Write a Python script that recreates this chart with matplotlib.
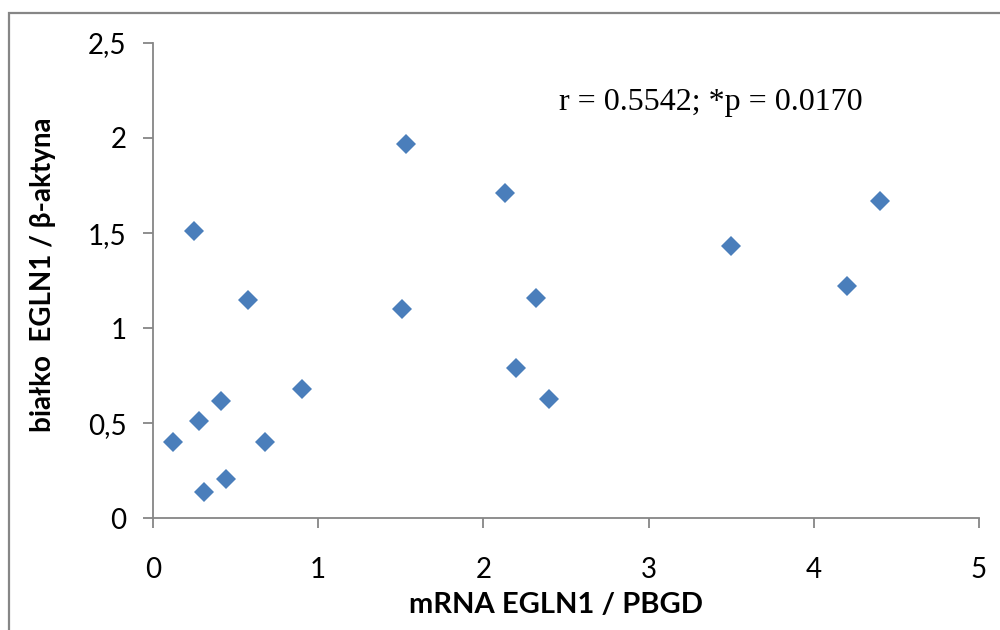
import matplotlib
matplotlib.use("Agg")
import matplotlib.pyplot as plt
from matplotlib.patches import Rectangle
from matplotlib.ticker import FuncFormatter

# mRNA vs protein level of EGLN1
mrna = [0.12, 0.28, 0.31, 0.25, 0.41, 0.44, 0.575, 0.68, 0.90,
        1.51, 1.53, 2.13, 2.20, 2.32, 2.40, 3.50, 4.20, 4.40]
protein = [0.40, 0.51, 0.14, 1.51, 0.62, 0.21, 1.15, 0.40, 0.68,
           1.10, 1.97, 1.71, 0.79, 1.16, 0.63, 1.43, 1.22, 1.67]

x_ticks = [0, 1, 2, 3, 4, 5]
y_ticks = [0, 0.5, 1, 1.5, 2, 2.5]
stats_text = "r = 0.5542; *p = 0.0170"

plt.rcParams['font.family'] = ['Lato', 'DejaVu Sans']
axis_gray = '#868686'

fig = plt.figure(figsize=(10, 6.3), dpi=100)
ax = fig.add_axes([0.153, 0.177, 0.826, 0.755])

ax.plot(mrna, protein, linestyle='none', marker='D', markersize=10,
        markerfacecolor='#4A7EBB', markeredgewidth=0, clip_on=False)

ax.set_xlim(0, 5)
ax.set_ylim(0, 2.5)
ax.set_xticks(x_ticks)
ax.set_yticks(y_ticks)

fmt = FuncFormatter(lambda v, _: f"{v:g}".replace('.', ','))
ax.xaxis.set_major_formatter(fmt)
ax.yaxis.set_major_formatter(fmt)

for side in ['top', 'right']:
    ax.spines[side].set_visible(False)
for side in ['left', 'bottom']:
    ax.spines[side].set_color(axis_gray)
    ax.spines[side].set_linewidth(1.3)

ax.tick_params(axis='both', colors=axis_gray, labelcolor='black',
               labelsize=20, length=7, width=1.3, direction='out')
ax.tick_params(axis='x', pad=21)
ax.tick_params(axis='y', pad=12)

ax.set_xlabel('mRNA EGLN1 / PBGD', fontsize=21, fontweight='bold')
ax.set_ylabel('białko  EGLN1 / β-aktyna', fontsize=20, fontweight='bold')
ax.xaxis.set_label_coords(0.488, -0.155)
ax.yaxis.set_label_coords(-0.117, 0.513)

ax.text(0.491, 0.875, stats_text, transform=ax.transAxes,
        family='Liberation Serif', fontsize=23, ha='left', va='center')

# outer chart-area frame, running off the right and bottom edges
fig.patches.append(Rectangle((0.009, -0.05), 1.1, 1.03,
                             transform=fig.transFigure, fill=False,
                             edgecolor=axis_gray, linewidth=1.6))

fig.savefig('out.png', dpi=100)
